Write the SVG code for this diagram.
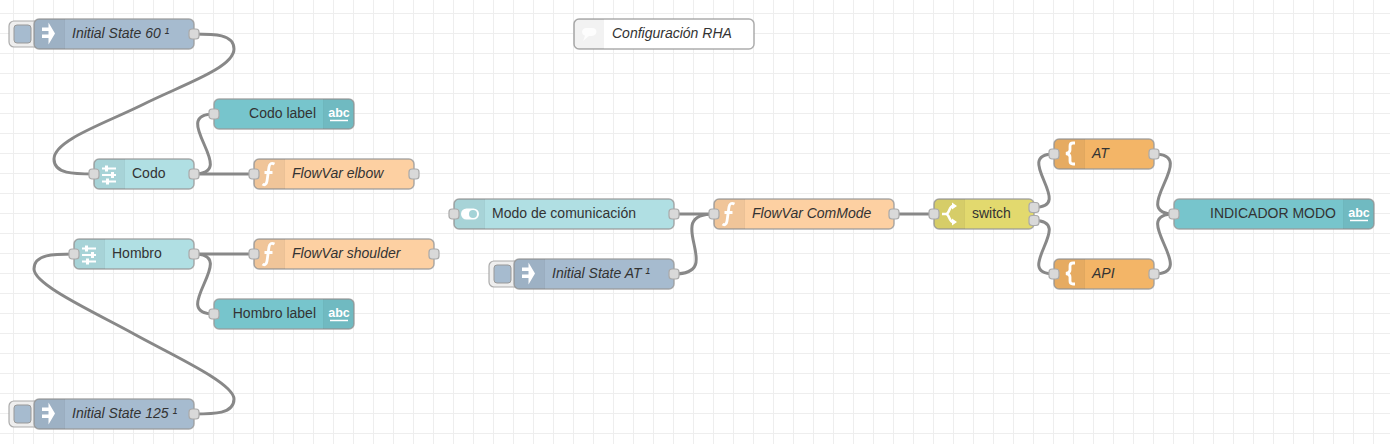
<svg xmlns="http://www.w3.org/2000/svg" width="1390" height="444" viewBox="0 0 1390 444">
<style>
.body{stroke:#999;stroke-width:1.500;stroke-opacity:.8}
.shade{fill:#000;fill-opacity:.05}
.sep{stroke:#000;stroke-opacity:.07;stroke-width:1}
.port{fill:#d9d9d9;stroke:#aaa;stroke-width:1.200}
.btn{fill:#eee;stroke:#999;stroke-width:1.200;stroke-opacity:.8}
.btnin{fill:#a6bbcf;stroke:#999;stroke-width:1}
.lbl{font:14px "Liberation Sans",Arial,sans-serif;fill:#333}
.it{font-style:italic}
.abc{font:bold 12.500px "Liberation Sans",Arial,sans-serif;fill:#fff;text-anchor:middle}
.wire{fill:none;stroke:#888;stroke-width:3}
.grid{stroke:#eee;stroke-width:1;fill:none}
.inj{fill:#a6bbcf}.dash{fill:#b0dfe3}.txt{fill:#77c5cc}.fn{fill:#fdd0a2}.tpl{fill:#f3b567}.sw{fill:#e2d96e}.cm{fill:#fff}
.ic{fill:#fff}
.ics{fill:none;stroke:#fff}
</style>
<defs>
<g id="i-inject"><path class="ic" d="M14.500 3.500L21 14.500L14.500 25.500ZM8 8.500h7v3.500H8zM8 15.500h7v3.500H8z"/></g>
<g id="i-slider"><path class="ics" stroke-width="2" d="M8 9.500H22M8 16H22M8 22.500H22"/><path class="ic" d="M11 6.500h3v6h-3zM17 13h3v6h-3zM12 19.500h3v6h-3z"/></g>
<g id="i-toggle"><rect class="ic" x="7" y="9.500" width="18" height="11" rx="5.500"/><circle cx="19" cy="15" r="4" fill="#a4d3d7"/></g>
<g id="i-fn"><path class="ics" stroke-width="2.800" d="M20.500 5c-3-1.500-5-.5-5.500 3L13 22c-.5 3.500-2.500 4.500-4.500 3.200M10.500 13.500h8"/></g>
<g id="i-brace"><path class="ics" stroke-width="2.800" d="M21 4h-2c-2 0-3 1-3 3v4c0 2-1 3-4 3.500 3 .5 4 1.500 4 3.500v4c0 2 1 3 3 3h2"/></g>
<g id="i-switch"><path class="ics" stroke-width="2.500" d="M8 15h4c3.500 0 3-8 7-8M12 15c3.500 0 3 8 7 8"/><path class="ic" d="M18 3.500l5 3.500-5 3.500zM18 19.500l5 3.500-5 3.500z"/></g>
<path id="i-bubble" class="ic" d="M12 9h6c3 0 4.500 1.600 4.500 3.800S20.500 17 18 17h-3l-6 5 2-5.200c-2-.8-3-2.200-3-4C8 10.500 10 9 12 9z"/>
</defs>
<g id="grid"><path class="grid" d="M13.500 0V444M33.500 0V444M53.500 0V444M73.500 0V444M93.500 0V444M113.500 0V444M133.500 0V444M153.500 0V444M173.500 0V444M193.500 0V444M213.500 0V444M233.500 0V444M253.500 0V444M273.500 0V444M293.500 0V444M313.500 0V444M333.500 0V444M353.500 0V444M373.500 0V444M393.500 0V444M413.500 0V444M433.500 0V444M453.500 0V444M473.500 0V444M493.500 0V444M513.500 0V444M533.500 0V444M553.500 0V444M573.500 0V444M593.500 0V444M613.500 0V444M633.500 0V444M653.500 0V444M673.500 0V444M693.500 0V444M713.500 0V444M733.500 0V444M753.500 0V444M773.500 0V444M793.500 0V444M813.500 0V444M833.500 0V444M853.500 0V444M873.500 0V444M893.500 0V444M913.500 0V444M933.500 0V444M953.500 0V444M973.500 0V444M993.500 0V444M1013.500 0V444M1033.500 0V444M1053.500 0V444M1073.500 0V444M1093.500 0V444M1113.500 0V444M1133.500 0V444M1153.500 0V444M1173.500 0V444M1193.500 0V444M1213.500 0V444M1233.500 0V444M1253.500 0V444M1273.500 0V444M1293.500 0V444M1313.500 0V444M1333.500 0V444M1353.500 0V444M1373.500 0V444M0 13.500H1390M0 33.500H1390M0 53.500H1390M0 73.500H1390M0 93.500H1390M0 113.500H1390M0 133.500H1390M0 153.500H1390M0 173.500H1390M0 193.500H1390M0 213.500H1390M0 233.500H1390M0 253.500H1390M0 273.500H1390M0 293.500H1390M0 313.500H1390M0 333.500H1390M0 353.500H1390M0 373.500H1390M0 393.500H1390M0 413.500H1390M0 433.500H1390"/></g>
<g id="connectors">
<path class="wire" d="M194 34C214 34 234 34 234 49C234 68 182 85 144 104C106 123 54 140 54 159C54 174 74 174 94 174"/>
<path class="wire" d="M194 174C241 174 167 114 214 114"/>
<path class="wire" d="M194 174H254"/>
<path class="wire" d="M194 254H254"/>
<path class="wire" d="M194 254C241 254 167 314 214 314"/>
<path class="wire" d="M194 414C214 414 234 414 234 399C234 383 172 355 134 334C96 313 34 285 34 269C34 254 54 254 74 254"/>
<path class="wire" d="M674 214H714"/>
<path class="wire" d="M674 274C728 274 660 214 714 214"/>
<path class="wire" d="M894 214H934"/>
<path class="wire" d="M1034 207.500C1077 207.500 1011 154 1054 154"/>
<path class="wire" d="M1034 220.500C1077 220.500 1011 274 1054 274"/>
<path class="wire" d="M1154 154C1201 154 1127 214 1174 214"/>
<path class="wire" d="M1154 274C1201 274 1127 214 1174 214"/>
</g>
<g id="node-comment" transform="translate(574,19)"><rect class="body cm" width="180" height="30" rx="5"/><path class="shade" d="M5 0H30V30H5a5 5 0 0 1-5-5V5a5 5 0 0 1 5-5z"/><use href="#i-bubble" fill-opacity=".8"/><text class="lbl it" x="38" y="19">Configuración RHA</text></g>
<g id="node-state60" transform="translate(34,19)"><rect class="btn" x="-25" y="2" width="32" height="26" rx="5"/><rect class="btnin" x="-20" y="6" width="17" height="18" rx="3"/><rect class="body inj" width="160" height="30" rx="5"/><path class="shade" d="M5 0H30V30H5a5 5 0 0 1-5-5V5a5 5 0 0 1 5-5z"/><path class="sep" d="M30.500 0V30"/><use href="#i-inject"/><text class="lbl it" x="38" y="19">Initial State 60 ¹</text><rect class="port" x="155" y="10" width="10" height="10" rx="3"/></g>
<g id="node-codo" transform="translate(94,159)"><rect class="body dash" width="100" height="30" rx="5"/><path class="shade" d="M5 0H30V30H5a5 5 0 0 1-5-5V5a5 5 0 0 1 5-5z"/><path class="sep" d="M30.500 0V30"/><use href="#i-slider"/><text class="lbl" x="38" y="19">Codo</text><rect class="port" x="-5" y="10" width="10" height="10" rx="3"/><rect class="port" x="95" y="10" width="10" height="10" rx="3"/></g>
<g id="node-codo-label" transform="translate(214,99)"><rect class="body txt" width="140" height="30" rx="5"/><path class="shade" d="M110 0H135a5 5 0 0 1 5 5V25a5 5 0 0 1-5 5H110z"/><path class="sep" d="M109.500 0V30"/><text class="abc" x="125" y="18">abc</text><path class="ics" stroke-width="1.500" d="M116 21.500H134"/><text class="lbl" x="102" y="19" text-anchor="end">Codo label</text><rect class="port" x="-5" y="10" width="10" height="10" rx="3"/></g>
<g id="node-elbow" transform="translate(254,159)"><rect class="body fn" width="160" height="30" rx="5"/><path class="shade" d="M5 0H30V30H5a5 5 0 0 1-5-5V5a5 5 0 0 1 5-5z"/><path class="sep" d="M30.500 0V30"/><use href="#i-fn"/><text class="lbl it" x="38" y="19">FlowVar elbow</text><rect class="port" x="-5" y="10" width="10" height="10" rx="3"/><rect class="port" x="155" y="10" width="10" height="10" rx="3"/></g>
<g id="node-hombro" transform="translate(74,239)"><rect class="body dash" width="120" height="30" rx="5"/><path class="shade" d="M5 0H30V30H5a5 5 0 0 1-5-5V5a5 5 0 0 1 5-5z"/><path class="sep" d="M30.500 0V30"/><use href="#i-slider"/><text class="lbl" x="38" y="19">Hombro</text><rect class="port" x="-5" y="10" width="10" height="10" rx="3"/><rect class="port" x="115" y="10" width="10" height="10" rx="3"/></g>
<g id="node-shoulder" transform="translate(254,239)"><rect class="body fn" width="180" height="30" rx="5"/><path class="shade" d="M5 0H30V30H5a5 5 0 0 1-5-5V5a5 5 0 0 1 5-5z"/><path class="sep" d="M30.500 0V30"/><use href="#i-fn"/><text class="lbl it" x="38" y="19">FlowVar shoulder</text><rect class="port" x="-5" y="10" width="10" height="10" rx="3"/><rect class="port" x="175" y="10" width="10" height="10" rx="3"/></g>
<g id="node-hombro-label" transform="translate(214,299)"><rect class="body txt" width="140" height="30" rx="5"/><path class="shade" d="M110 0H135a5 5 0 0 1 5 5V25a5 5 0 0 1-5 5H110z"/><path class="sep" d="M109.500 0V30"/><text class="abc" x="125" y="18">abc</text><path class="ics" stroke-width="1.500" d="M116 21.500H134"/><text class="lbl" x="102" y="19" text-anchor="end">Hombro label</text><rect class="port" x="-5" y="10" width="10" height="10" rx="3"/></g>
<g id="node-state125" transform="translate(34,399)"><rect class="btn" x="-25" y="2" width="32" height="26" rx="5"/><rect class="btnin" x="-20" y="6" width="17" height="18" rx="3"/><rect class="body inj" width="160" height="30" rx="5"/><path class="shade" d="M5 0H30V30H5a5 5 0 0 1-5-5V5a5 5 0 0 1 5-5z"/><path class="sep" d="M30.500 0V30"/><use href="#i-inject"/><text class="lbl it" x="38" y="19">Initial State 125 ¹</text><rect class="port" x="155" y="10" width="10" height="10" rx="3"/></g>
<g id="node-modo" transform="translate(454,199)"><rect class="body dash" width="220" height="30" rx="5"/><path class="shade" d="M5 0H30V30H5a5 5 0 0 1-5-5V5a5 5 0 0 1 5-5z"/><path class="sep" d="M30.500 0V30"/><use href="#i-toggle"/><text class="lbl" x="38" y="19">Modo de comunicación</text><rect class="port" x="-5" y="10" width="10" height="10" rx="3"/><rect class="port" x="215" y="10" width="10" height="10" rx="3"/></g>
<g id="node-stateat" transform="translate(514,259)"><rect class="btn" x="-25" y="2" width="32" height="26" rx="5"/><rect class="btnin" x="-20" y="6" width="17" height="18" rx="3"/><rect class="body inj" width="160" height="30" rx="5"/><path class="shade" d="M5 0H30V30H5a5 5 0 0 1-5-5V5a5 5 0 0 1 5-5z"/><path class="sep" d="M30.500 0V30"/><use href="#i-inject"/><text class="lbl it" x="38" y="19">Initial State AT ¹</text><rect class="port" x="155" y="10" width="10" height="10" rx="3"/></g>
<g id="node-commode" transform="translate(714,199)"><rect class="body fn" width="180" height="30" rx="5"/><path class="shade" d="M5 0H30V30H5a5 5 0 0 1-5-5V5a5 5 0 0 1 5-5z"/><path class="sep" d="M30.500 0V30"/><use href="#i-fn"/><text class="lbl it" x="38" y="19">FlowVar ComMode</text><rect class="port" x="-5" y="10" width="10" height="10" rx="3"/><rect class="port" x="175" y="10" width="10" height="10" rx="3"/></g>
<g id="node-switch" transform="translate(934,199)"><rect class="body sw" width="100" height="30" rx="5"/><path class="shade" d="M5 0H30V30H5a5 5 0 0 1-5-5V5a5 5 0 0 1 5-5z"/><path class="sep" d="M30.500 0V30"/><use href="#i-switch"/><text class="lbl" x="38" y="19">switch</text><rect class="port" x="-5" y="10" width="10" height="10" rx="3"/><rect class="port" x="95" y="3.500" width="10" height="10" rx="3"/><rect class="port" x="95" y="16.500" width="10" height="10" rx="3"/></g>
<g id="node-at" transform="translate(1054,139)"><rect class="body tpl" width="100" height="30" rx="5"/><path class="shade" d="M5 0H30V30H5a5 5 0 0 1-5-5V5a5 5 0 0 1 5-5z"/><path class="sep" d="M30.500 0V30"/><use href="#i-brace"/><text class="lbl it" x="38" y="19">AT</text><rect class="port" x="-5" y="10" width="10" height="10" rx="3"/><rect class="port" x="95" y="10" width="10" height="10" rx="3"/></g>
<g id="node-api" transform="translate(1054,259)"><rect class="body tpl" width="100" height="30" rx="5"/><path class="shade" d="M5 0H30V30H5a5 5 0 0 1-5-5V5a5 5 0 0 1 5-5z"/><path class="sep" d="M30.500 0V30"/><use href="#i-brace"/><text class="lbl it" x="38" y="19">API</text><rect class="port" x="-5" y="10" width="10" height="10" rx="3"/><rect class="port" x="95" y="10" width="10" height="10" rx="3"/></g>
<g id="node-indicador" transform="translate(1174,199)"><rect class="body txt" width="200" height="30" rx="5"/><path class="shade" d="M170 0H195a5 5 0 0 1 5 5V25a5 5 0 0 1-5 5H170z"/><path class="sep" d="M169.500 0V30"/><text class="abc" x="185" y="18">abc</text><path class="ics" stroke-width="1.500" d="M176 21.500H194"/><text class="lbl" x="162" y="19" text-anchor="end">INDICADOR MODO</text><rect class="port" x="-5" y="10" width="10" height="10" rx="3"/></g>
</svg>
